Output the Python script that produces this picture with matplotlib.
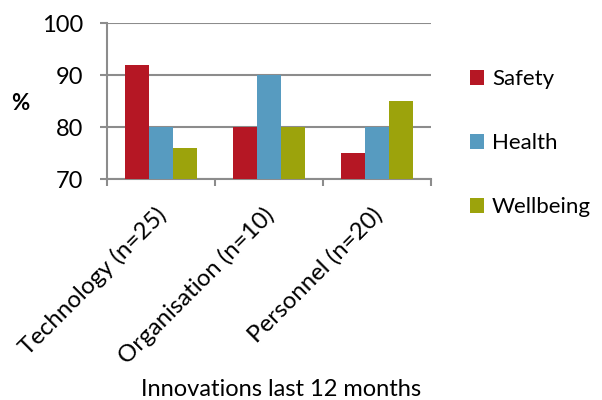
import matplotlib
matplotlib.use("Agg")
import matplotlib.pyplot as plt
import numpy as np

categories = ["Technology (n=25)", "Organisation (n=10)", "Personnel (n=20)"]
series = ["Safety", "Health", "Wellbeing"]
safety = [92, 80, 75]
health = [80, 90, 80]
wellbeing = [76, 80, 85]
colors = ["#B51724", "#579BC0", "#9CA30C"]

plt.rcParams['font.family'] = ['Lato', 'DejaVu Sans']

fig = plt.figure(figsize=(6.02, 4.0), dpi=100)
ax = fig.add_axes([0.1777, 0.5525, 0.5383, 0.39])

x = np.arange(len(categories))
w = 0.22
for i, (vals, name) in enumerate(zip([safety, health, wellbeing], series)):
    ax.bar(x + (i - 1) * w, np.array(vals) - 70, width=w, bottom=70,
           color=colors[i], label=name, zorder=3)

ax.set_ylim(70, 100)
ax.set_xlim(-0.5, 2.5)
ax.set_yticks([70, 80, 90, 100])
ax.yaxis.grid(True, color="#8c8c8c", linewidth=1.5, zorder=0)

# ticks sit on category boundaries, labels just left of the centres
ax.set_xticks([-0.5, 0.5, 1.5, 2.5])
ax.set_xticklabels([])
ax.set_xticks(x - 0.055, minor=True)
ax.set_xticklabels(categories, minor=True, rotation=45, ha="right",
                   rotation_mode="anchor", fontsize=17.3)
ax.tick_params(axis="x", which="minor", length=0, pad=18)
ax.tick_params(axis="x", which="major", length=5, width=1.5, color="#8c8c8c")
ax.tick_params(axis="y", length=5, width=1.5, color="#8c8c8c", labelsize=17, pad=12)

for s in ["top", "right"]:
    ax.spines[s].set_visible(False)
for s in ["left", "bottom"]:
    ax.spines[s].set_color("#8c8c8c")
    ax.spines[s].set_linewidth(1.5)

ax.set_xlabel("Innovations last 12 months", fontsize=17)
ax.xaxis.set_label_coords(0.536, -1.28)
fig.text(0.034, 0.742, "%", fontsize=16, fontweight="bold", ha="center", va="center")

fig.legend(loc="upper left", bbox_to_anchor=(0.762, 0.855), frameon=False,
           fontsize=16, handlelength=0.65, handleheight=0.65, handletextpad=0.35,
           labelspacing=1.98, borderpad=0)

fig.savefig("out.png", dpi=100)
